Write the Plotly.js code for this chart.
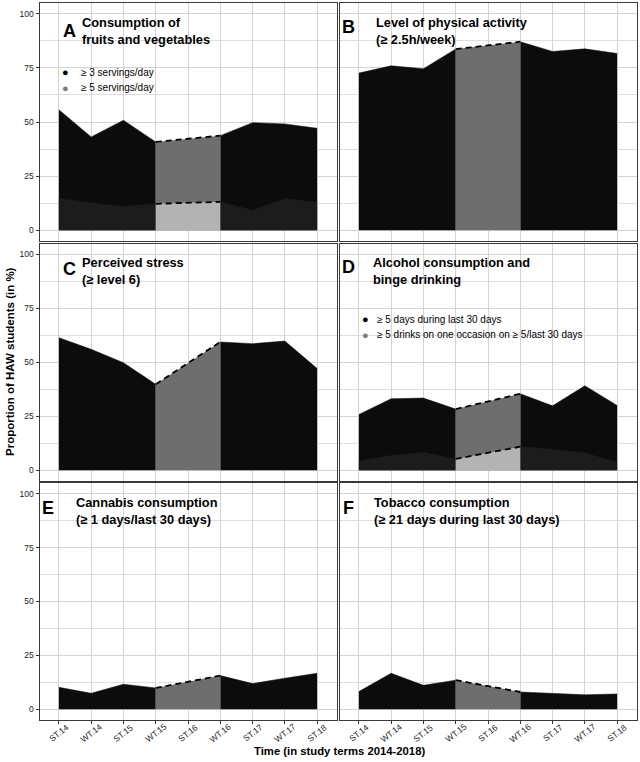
<!DOCTYPE html>
<html>
<head>
<meta charset="utf-8">
<script src="https://cdn.plot.ly/plotly-3.0.1.min.js"></script>
<style>html,body{margin:0;padding:0;background:#fff;}#chart{width:640px;height:762px;}</style>
</head>
<body>
<div id="chart"></div>
<script>
// ---- data ----
var terms = ['ST.14','WT.14','ST.15','WT.15','ST.16','WT.16','ST.17','WT.17','ST.18'];
var fruitVeg3 = [55.7, 43.1, 50.8, 40.8, null, 43.7, 49.7, 49.1, 47.1];
var fruitVeg5 = [14.8, 12.6, 10.9, 12.2, null, 13.1, 9.2, 14.6, 12.9];
var physical  = [72.6, 76.0, 74.6, 83.7, null, 87.1, 82.6, 83.8, 81.7];
var stress    = [61.4, 56.0, 49.8, 39.8, null, 59.4, 58.6, 59.8, 47.1];
var alcoholDays = [25.8, 33.1, 33.4, 28.3, null, 35.4, 29.8, 39.1, 30.0];
var bingeDrinking = [4.3, 6.8, 8.3, 5.2, null, 10.9, 9.7, 8.0, 3.7];
var cannabis  = [10.2, 7.4, 11.6, 9.9, null, 15.6, 11.9, 14.4, 16.7];
var tobacco   = [8.2, 16.7, 11.1, 13.5, null, 8.0, 7.4, 6.7, 7.1];
var yTicks = [0, 25, 50, 75, 100];

// ---- styling ----
var FONT = '"Liberation Sans", Arial, Helvetica, sans-serif';
var C_UP = '#0c0c0c', C_LOW = '#1c1c1c', C_MID = '#6e6e6e', C_MIDLOW = '#b3b3b3';
var W = 640, H = 762;
var cols = [[39.5, 336.5], [339.5, 636.5]];
var rows = [[3, 241], [243.5, 481], [483, 720]];

var traces = [];
var layout = {
  width: W, height: H, margin: {l:0, r:0, t:0, b:0},
  paper_bgcolor: '#fff', plot_bgcolor: '#fff',
  showlegend: false, font: {family: FONT, color: '#000'},
  annotations: []
};

function idxOf(t){ return terms.indexOf(t); }
function seg(arr, a, b){
  var xs = [], ys = [];
  for (var i = idxOf(a); i <= idxOf(b); i++){ if (arr[i] !== null){ xs.push(terms[i]); ys.push(arr[i]); } }
  return {x: xs, y: ys};
}
function addSeries(k, arr, outerColor, midColor){
  var ax = k === 1 ? '' : String(k);
  var s1 = seg(arr, 'ST.14', 'WT.15');
  var s2 = seg(arr, 'WT.16', 'ST.18');
  var sm = seg(arr, 'WT.15', 'WT.16');
  [s1, s2].forEach(function(s){
    traces.push({x: s.x, y: s.y, xaxis: 'x'+ax, yaxis: 'y'+ax, type: 'scatter', mode: 'lines',
      fill: 'tozeroy', fillcolor: outerColor, line: {color: outerColor, width: 0.5}, hoverinfo: 'skip'});
  });
  traces.push({x: sm.x, y: sm.y, xaxis: 'x'+ax, yaxis: 'y'+ax, type: 'scatter', mode: 'lines',
    fill: 'tozeroy', fillcolor: midColor, line: {color: '#000', width: 1.8, dash: '6px,4px'}, hoverinfo: 'skip'});
}

function setAxes(k, r, c){
  var ax = k === 1 ? '' : String(k);
  var bottom = r === 2, left = c === 0;
  layout['xaxis'+ax] = {
    domain: [cols[c][0]/W, cols[c][1]/W], anchor: 'y'+ax,
    type: 'category', categoryarray: terms, categoryorder: 'array', range: [-0.6, 8.6],
    showgrid: true, gridcolor: '#d4d4d4', gridwidth: 1,
    showline: true, mirror: true, linecolor: '#3a3a3a', linewidth: 1,
    showticklabels: false, ticks: bottom ? 'outside' : '', ticklen: 3, tickcolor: '#333',
    zeroline: false, fixedrange: true
  };
  layout['yaxis'+ax] = {
    domain: [1 - rows[r][1]/H, 1 - rows[r][0]/H], anchor: 'x'+ax,
    range: [-5, 105], tickmode: 'array', tickvals: yTicks, ticktext: yTicks.map(String),
    showgrid: true, gridcolor: '#d4d4d4', gridwidth: 1,
    minor: {tickmode: 'linear', tick0: 0, dtick: 12.5, showgrid: true, gridcolor: '#dedede', gridwidth: 1, ticks: ''},
    showline: true, mirror: true, linecolor: '#3a3a3a', linewidth: 1,
    showticklabels: left, ticks: left ? 'outside' : '', ticklen: 3, tickcolor: '#333',
    tickfont: {size: 8.5, color: '#222', family: FONT}, zeroline: false, fixedrange: true
  };
  if (bottom){
    terms.forEach(function(t){
      layout.annotations.push({xref: 'x'+ax, yref: 'paper', x: t, y: 1 - 733/H, text: t,
        showarrow: false, textangle: -38, xanchor: 'center', yanchor: 'middle',
        font: {family: FONT, size: 8.5, color: '#222'}});
    });
  }
}

function txt(px, py, text, size, opts){
  var a = {xref: 'paper', yref: 'paper', x: px/W, y: 1 - py/H, text: text, showarrow: false,
    xanchor: 'left', yanchor: 'middle', font: {family: FONT, size: size, color: '#000'}, align: 'left'};
  if (opts) for (var k in opts) a[k] = opts[k];
  layout.annotations.push(a);
}

var panels = [
  {k:1, r:0, c:0, up: fruitVeg3, low: fruitVeg5},
  {k:2, r:0, c:1, up: physical},
  {k:3, r:1, c:0, up: stress},
  {k:4, r:1, c:1, up: alcoholDays, low: bingeDrinking},
  {k:5, r:2, c:0, up: cannabis},
  {k:6, r:2, c:1, up: tobacco}
];
panels.forEach(function(p){
  setAxes(p.k, p.r, p.c);
  addSeries(p.k, p.up, C_UP, C_MID);
  if (p.low) addSeries(p.k, p.low, C_LOW, C_MIDLOW);
});

// panel titles
var TS = 12.8, LS = 18;
txt(61, 31, '<b>A</b>', LS);
txt(80, 31, '<b>Consumption of</b><br><b>fruits and vegetables</b>', TS);
txt(340, 27, '<b>B</b>', LS);
txt(374, 30.5, '<b>Level of physical activity</b><br><b>(≥ 2.5h/week)</b>', TS);
txt(61, 269, '<b>C</b>', LS);
txt(80, 271, '<b>Perceived stress</b><br><b>(≥ level 6)</b>', TS);
txt(340, 267, '<b>D</b>', LS);
txt(371, 271, '<b>Alcohol consumption and</b><br><b>binge drinking</b>', TS);
txt(40, 508, '<b>E</b>', LS);
txt(74, 510.5, '<b>Cannabis consumption</b><br><b>(≥ 1 days/last 30 days)</b>', TS);
txt(341, 508, '<b>F</b>', LS);
txt(372, 510.5, '<b>Tobacco consumption</b><br><b>(≥ 21 days during last 30 days)</b>', TS);

// legends
txt(60, 72, '●', 11, {font: {family: FONT, size: 11, color: '#000'}});
txt(79, 72, '≥ 3 servings/day', 10);
txt(60, 88, '●', 11, {font: {family: FONT, size: 11, color: '#7a7a7a'}});
txt(79, 88, '≥ 5 servings/day', 10);
txt(360, 319, '●', 11, {font: {family: FONT, size: 11, color: '#000'}});
txt(375, 319, '≥ 5 days during last 30 days', 10);
txt(360, 334.5, '●', 11, {font: {family: FONT, size: 11, color: '#7a7a7a'}});
txt(375, 334.5, '≥ 5 drinks on one occasion on ≥ 5/last 30 days', 10);

// axis titles
txt(339, 751, '<b>Time (in study terms 2014-2018)</b>', 11.3, {xanchor: 'center'});
txt(10, 362, '<b>Proportion of HAW students (in %)</b>', 11.5, {xanchor: 'center', textangle: -90});

Plotly.newPlot('chart', traces, layout, {staticPlot: true, displayModeBar: false});
</script>
</body>
</html>
